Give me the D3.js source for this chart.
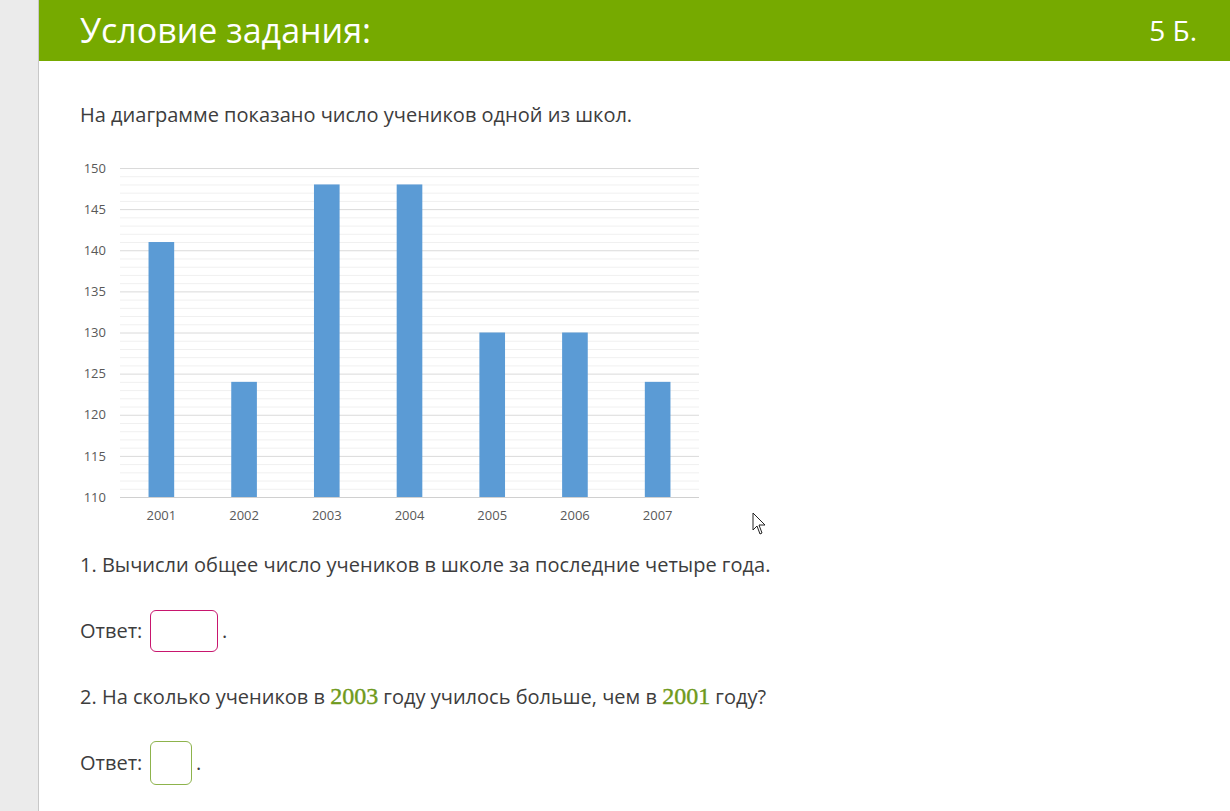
<!DOCTYPE html>
<html>
<head>
<meta charset="utf-8">
<script src="https://d3js.org/d3.v7.min.js"></script>
<style>
  html, body { margin: 0; padding: 0; }
  body { width: 1230px; height: 811px; position: relative; overflow: hidden;
         background: #fff; font-family: "Open Sans", sans-serif; color: #3d3d3d; }
  #side { position: absolute; left: 0; top: 0; width: 38px; height: 811px;
          background: #ebebeb; border-right: 1px solid #c8c8c8; }
  #head { position: absolute; left: 39px; top: 0; width: 1191px; height: 61px; background: #76aa00; }
  #title { position: absolute; left: 80px; top: 7px; font-size: 34px; color: #fff; }
  #points { position: absolute; right: 33px; top: 11px; font-size: 28px; color: #fff; }
  .txt { position: absolute; left: 80px; font-size: 20px; white-space: nowrap; }
  .num { font-family: "Liberation Serif", serif; color: #6f9a1c; font-size: 24px;
         -webkit-text-stroke: 0.4px #6f9a1c; }
  .box { position: absolute; border-radius: 6px; background: #fff; }
  #chart { position: absolute; left: 0; top: 0; }
</style>
</head>
<body>
<div id="side"></div>
<div id="head"></div>
<div id="title">Условие задания:</div>
<div id="points">5 Б.</div>
<div class="txt" style="top:101px">На диаграмме показано число учеников одной из школ.</div>
<svg id="chart" width="1230" height="811"></svg>
<div class="txt" style="top:551px">1. Вычисли общее число учеников в школе за последние четыре года.</div>
<div class="txt" style="top:617px">Ответ:</div>
<div class="box" style="left:150px; top:610px; width:66px; height:40px; border:1px solid #c8166e;"></div>
<div class="txt" style="left:222px; top:617px">.</div>
<div class="txt" style="top:683px">2. На сколько учеников в <span class="num">2003</span> году училось больше, чем в <span class="num">2001</span> году?</div>
<div class="txt" style="top:749px">Ответ:</div>
<div class="box" style="left:150px; top:741px; width:40px; height:42px; border:1px solid #8db34c;"></div>
<div class="txt" style="left:196px; top:749px">.</div>

<script>
const years = ['2001', '2002', '2003', '2004', '2005', '2006', '2007'];
const pupils = [141, 124, 148, 148, 130, 130, 124];
const yTicks = [110, 115, 120, 125, 130, 135, 140, 145, 150];
const minorTicks = d3.range(110, 151, 1);

const svg = d3.select('#chart');
const plotL = 120, plotR = 699, plotT = 168, plotB = 497;

const x = d3.scaleBand().domain(years).range([plotL, plotR]).paddingInner(0.69).paddingOuter(0.345);
const y = d3.scaleLinear().domain([110, 150]).range([plotB, plotT]);

// minor grid lines
svg.append('g').selectAll('line')
  .data(minorTicks.filter(d => d % 5 !== 0))
  .enter().append('line')
  .attr('x1', plotL).attr('x2', plotR)
  .attr('y1', d => y(d) + 0.5).attr('y2', d => y(d) + 0.5)
  .attr('stroke', '#f0f0f0');

// major grid lines
svg.append('g').selectAll('line')
  .data(yTicks)
  .enter().append('line')
  .attr('x1', plotL).attr('x2', plotR)
  .attr('y1', d => y(d) + 0.5).attr('y2', d => y(d) + 0.5)
  .attr('stroke', d => d === 110 ? '#d0d0d0' : '#dadada');

svg.append('g').selectAll('rect')
  .data(pupils)
  .enter().append('rect')
  .attr('x', (d, i) => x(years[i]))
  .attr('y', d => y(d))
  .attr('width', x.bandwidth())
  .attr('height', d => y(110) - y(d))
  .attr('fill', '#5b9bd5');

const yAxis = d3.axisLeft(y).tickValues(yTicks).tickSize(0).tickPadding(0);
svg.append('g')
  .attr('transform', 'translate(106,0)')
  .call(yAxis)
  .call(g => g.select('.domain').remove())
  .call(g => g.selectAll('text').attr('fill', '#595959').style('font-size', '13px')
     .style('font-family', '"Open Sans", sans-serif'));

const xAxis = d3.axisBottom(x).tickSize(0).tickPadding(0);
svg.append('g')
  .attr('transform', 'translate(0,511)')
  .call(xAxis)
  .call(g => g.select('.domain').remove())
  .call(g => g.selectAll('text').attr('fill', '#595959').style('font-size', '13px')
     .style('font-family', '"Open Sans", sans-serif'));

// mouse pointer
svg.append('path')
  .attr('d', 'M753,513 L753,530 L757,526 L760,534 L762,533 L759,525 L765,525 Z')
  .attr('fill', '#fff').attr('stroke', '#222').attr('stroke-width', 1);
</script>
</body>
</html>
